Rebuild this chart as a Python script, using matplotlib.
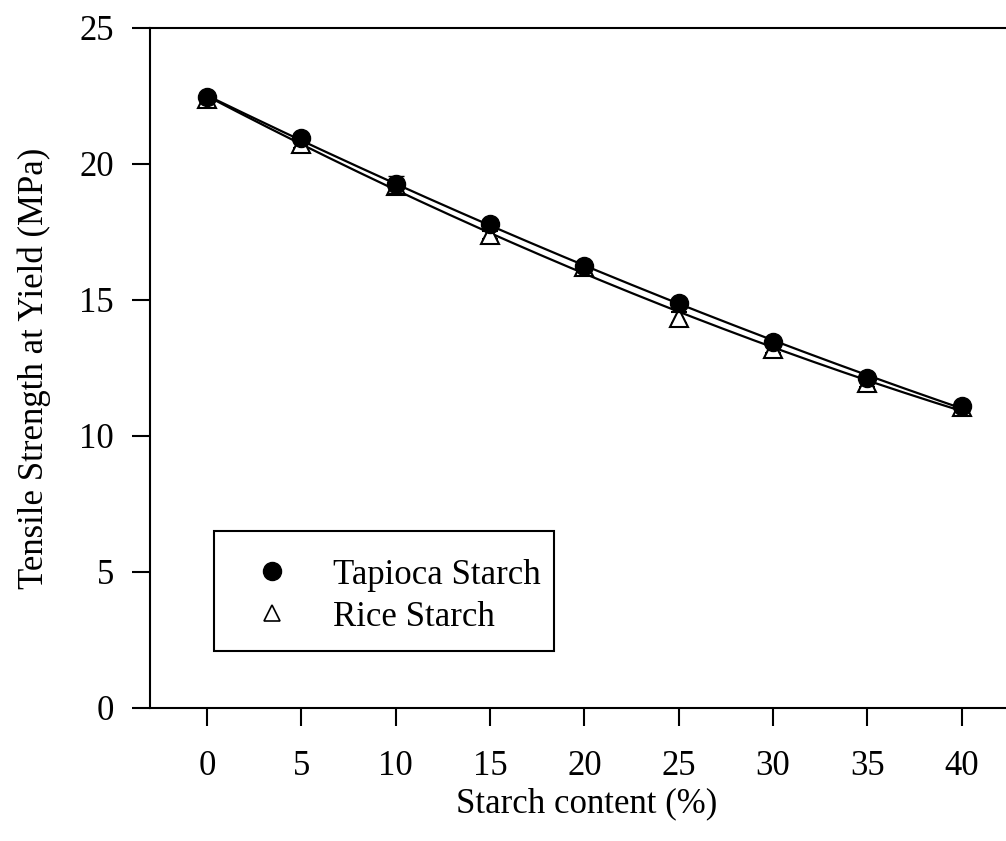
import numpy as np
import matplotlib
matplotlib.use("Agg")
from matplotlib import pyplot as plt
from matplotlib.lines import Line2D
from matplotlib.patches import Rectangle

# starch content (%)
starch = [0, 5, 10, 15, 20, 25, 30, 35, 40]

# tensile strength at yield (MPa)
tapioca = [22.45, 20.95, 19.25, 17.8, 16.25, 14.9, 13.45, 12.15, 11.1]
tapioca_err = [0.1, 0.1, 0.3, 0.15, 0.15, 0.1, 0.1, 0.1, 0.1]
rice = [22.4, 20.75, 19.2, 17.4, 16.2, 14.35, 13.2, 11.95, 11.05]
rice_err = [0.1, 0.15, 0.1, 0.15, 0.1, 0.2, 0.15, 0.15, 0.1]

plt.rcParams['font.family'] = ['Liberation Serif', 'DejaVu Serif']

fig = plt.figure(figsize=(10.06, 8.41), dpi=100)
# axes runs a little past the right edge of the picture (cropped original)
ax = fig.add_axes([150/1006, 133/841, 874/1006, 680/841])

xs = np.linspace(0, 40, 200)
# fitted curves (quadratic)
for y in (tapioca, rice):
    c = np.polyfit(starch, y, 2)
    ax.plot(xs, np.polyval(c, xs), color='black', lw=1.6, zorder=2)

ax.errorbar(starch, rice, yerr=rice_err, fmt='^', ms=13, mfc='white', mec='black',
            mew=1.5, ecolor='black', elinewidth=1.5, capsize=6, zorder=3)
ax.errorbar(starch, tapioca, yerr=tapioca_err, fmt='o', ms=13, mfc='black', mec='black',
            ecolor='black', elinewidth=1.5, capsize=6, zorder=4)

ax.set_xlim(-3.02, 43.3)
ax.set_ylim(0, 25)
ax.set_xticks(range(0, 41, 5))
ax.set_yticks(range(0, 26, 5))
ax.spines['right'].set_visible(False)
for s in ('left', 'bottom', 'top'):
    ax.spines[s].set_linewidth(1.5)
ax.tick_params(direction='out', length=13, width=1.5, labelsize=25)
ax.tick_params(axis='x', pad=17)
ax.tick_params(axis='y', pad=13)

ax.set_xlabel('Starch content (%)', fontsize=25, labelpad=3)
ax.set_ylabel('Tensile Strength at Yield (MPa)', fontsize=25, labelpad=20)

# legend box drawn separately, legend itself markers only
ax.add_patch(Rectangle((64/874, 57/680), 340/874, 120/680, transform=ax.transAxes,
                       fill=False, edgecolor='black', lw=1.5, zorder=5))
handles = [Line2D([], [], marker='o', ls='none', color='black', ms=13),
           Line2D([], [], marker='^', ls='none', mfc='white', mec='black', mew=1.2, ms=11)]
leg = ax.legend(handles, ['Tapioca Starch', 'Rice Starch'], loc='upper left',
                bbox_to_anchor=(96/874, 149.5/680), fontsize=25, frameon=False,
                borderpad=0, handletextpad=1.0, labelspacing=0.26,
                borderaxespad=0, handlelength=1.5)

fig.savefig('out.png', dpi=100)
